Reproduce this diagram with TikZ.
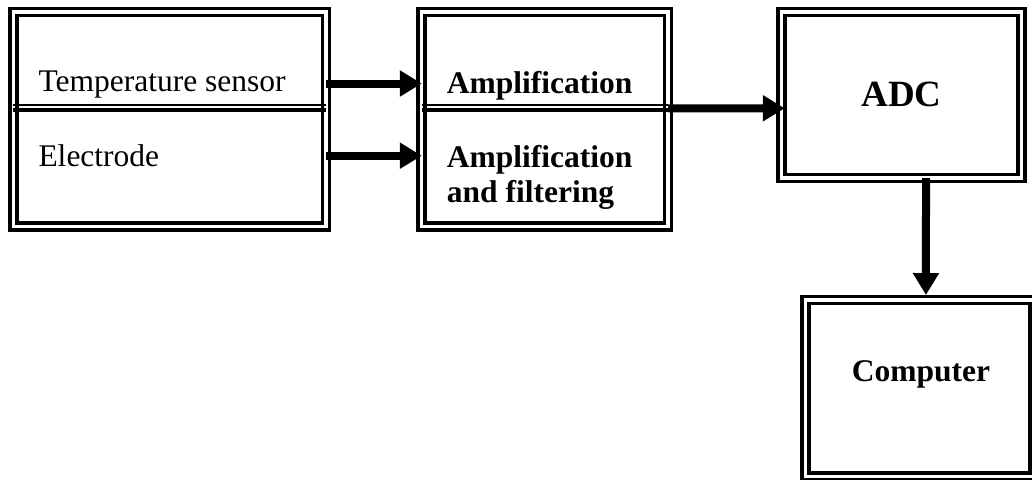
\documentclass[tikz,border=0pt]{standalone}
\usepackage{fontspec}
\setmainfont{Liberation Serif}
\usetikzlibrary{positioning, arrows.meta}
\tikzset{
    block/.style={draw, double, line width=3.6pt, double distance=3.4pt, inner sep=0pt, outer sep=0pt}, % double framed box
    txt/.style={inner sep=0pt, font=\fontsize{31.5}{35}\selectfont},
    btxt/.style={inner sep=0pt, font=\fontsize{31.5}{35}\selectfont\bfseries},
    link/.style={-{Triangle[length=22pt, width=25pt]}, line width=8pt},
    divthin/.style={line width=1.5pt},
    divthick/.style={line width=4pt}
}

\begin{document}
\begin{tikzpicture}[x=1pt, y=-1pt]
        \useasboundingbox (0,0) rectangle (1032,479);
        \clip (0,0) rectangle (1032,479);

        \node[block, minimum width=312.7pt, minimum height=214.6pt] (sens) at (169.8,119.1) {};
        \node[block, minimum width=246.4pt, minimum height=214.6pt] (amp) [right=95.6pt of sens] {};
        \node[block, minimum width=239.7pt, minimum height=166.2pt, font=\fontsize{37}{40}\selectfont\bfseries] (adc) [right=113.6pt of amp.north east, anchor=north west] {ADC};
        \node[block, minimum width=228.2pt, minimum height=176.5pt] (pc) [below=122pt of adc.south west, anchor=north west, xshift=23.5pt] {};

        \draw[divthin] ([yshift=14.1pt]sens.west) -- ([yshift=14.1pt]sens.east);
        \draw[divthick] ([yshift=9.6pt]sens.west) -- ([yshift=9.6pt]sens.east);
        \draw[divthin] ([yshift=14.1pt]amp.west) -- ([yshift=14.1pt]amp.east);
        \draw[divthick] ([yshift=9.6pt]amp.west) -- ([yshift=9.6pt]amp.east);

        \node[txt, anchor=base west] (temp) at (38.3,91.7) {Temperature sensor};
        \node[txt, anchor=base west] (elec) at (38.3,166.7) {Electrode};
        \node[btxt, anchor=base west] (amp1) at (446.7,93.3) {Amplification};
        \node[btxt, anchor=north west, align=left] (amp2) at (446.7,145) {Amplification\\and filtering};
        \node[btxt, anchor=base] (pctxt) at (921,381.7) {Computer};

        \draw[link] ([yshift=35.6pt]sens.east) -- ([yshift=35.6pt]amp.west);
        \draw[link] ([yshift=-36.6pt]sens.east) -- ([yshift=-36.6pt]amp.west);
        \draw[link] ([yshift=10.8pt]amp.east) -- ([xshift=3pt, yshift=-13.4pt]adc.west);
        \draw[link] ([xshift=24.4pt]adc.south) -- ([xshift=6.6pt, yshift=5pt]pc.north);
    \end{tikzpicture}
\end{document}
